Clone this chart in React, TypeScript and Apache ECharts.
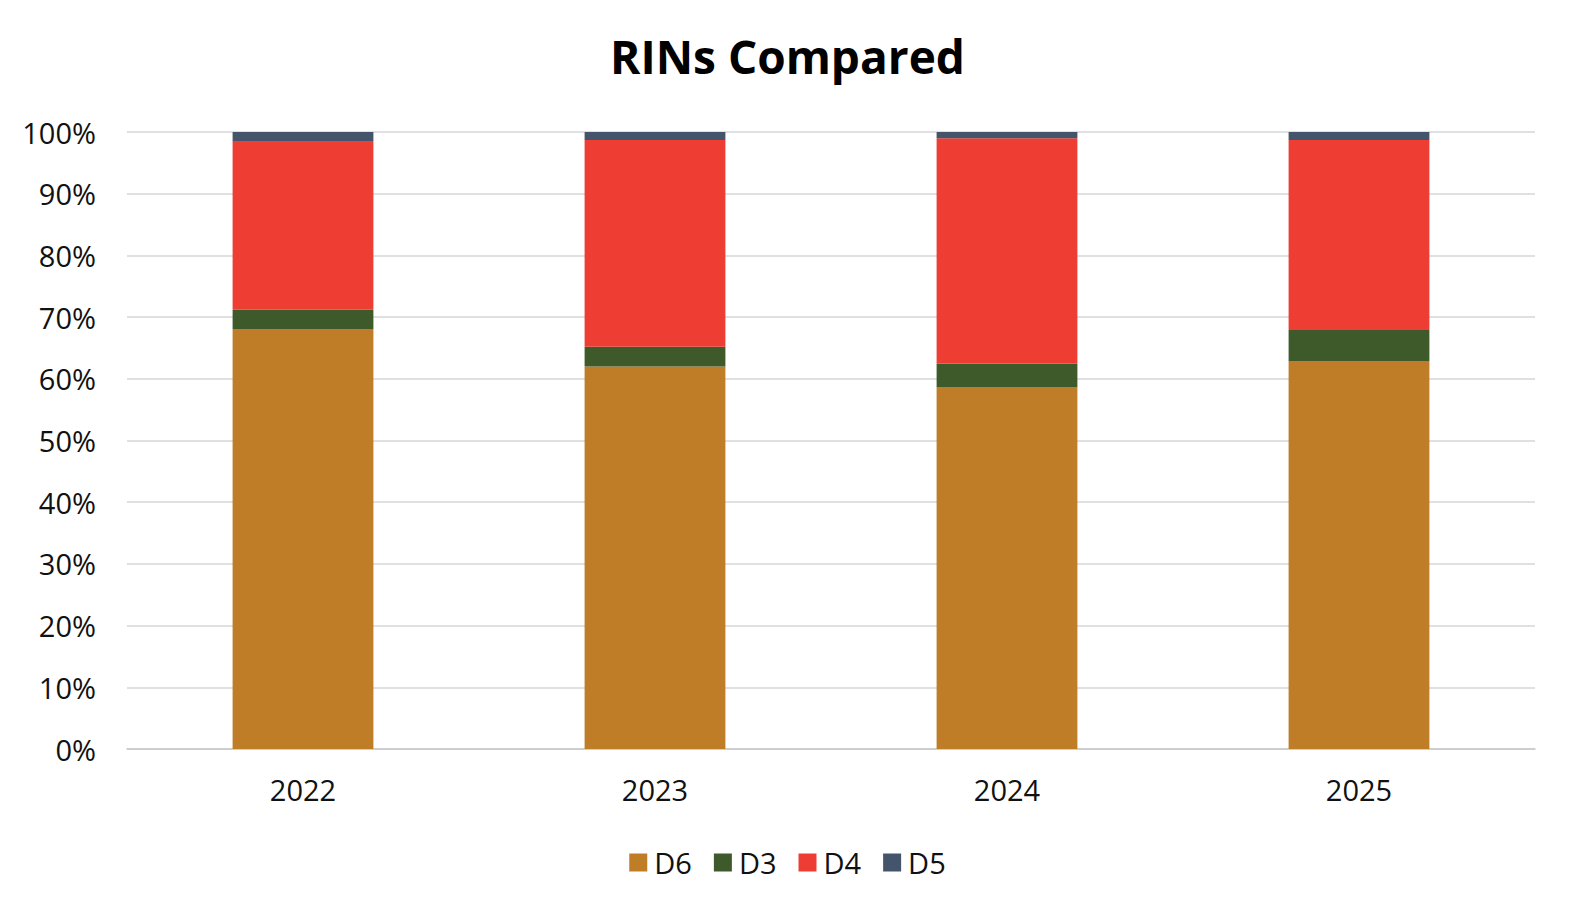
import React, { useEffect, useRef } from "react";
import * as echarts from "echarts";

const categories = ["2022", "2023", "2024", "2025"];
const d6 = [68.0, 62.0, 58.6, 62.8];
const d3 = [3.2, 3.2, 3.9, 5.1];
const d4 = [27.2, 33.5, 36.5, 30.8];
const d5 = [1.6, 1.3, 1.0, 1.3];
const seriesNames = ["D6", "D3", "D4", "D5"];
const colors = ["#C07D28", "#3F5A2A", "#EE3E33", "#44546A"];

export default function App() {
  const ref = useRef<HTMLDivElement>(null);
  useEffect(() => {
    if (!ref.current) return;
    const chart = echarts.init(ref.current, undefined, { renderer: "svg" });
    const data = [d6, d3, d4, d5];
    chart.setOption({
      animation: false,
      backgroundColor: "#ffffff",
      title: {
        text: "RINs Compared",
        left: "center",
        top: 28,
        textStyle: {
          fontFamily: "Open Sans",
          fontWeight: "bold",
          fontSize: 46,
          color: "#000000",
        },
      },
      legend: {
        bottom: 30,
        left: "center",
        icon: "rect",
        itemWidth: 18,
        itemHeight: 18,
        itemGap: 22,
        textStyle: { fontFamily: "Open Sans", fontSize: 29, color: "#111", padding: [0, 0, 0, 2] },
        data: seriesNames,
      },
      grid: { left: 127, right: 40, top: 132, bottom: 163 },
      xAxis: {
        type: "category",
        data: categories,
        axisTick: { show: false },
        axisLine: { lineStyle: { color: "#c8c8c8", width: 1.5 } },
        axisLabel: { fontFamily: "Open Sans", fontSize: 29, color: "#111", margin: 26 },
      },
      yAxis: {
        type: "value",
        min: 0,
        max: 100,
        interval: 10,
        axisLine: { show: false },
        axisTick: { show: false },
        splitLine: { lineStyle: { color: "#d6d6d6", width: 1.5 } },
        axisLabel: {
          fontFamily: "Open Sans",
          fontSize: 29,
          color: "#111",
          margin: 31,
          formatter: "{value}%",
        },
      },
      series: seriesNames.map((name, i) => ({
        name,
        type: "bar",
        stack: "total",
        barWidth: "40%",
        data: data[i],
        itemStyle: { color: colors[i] },
      })),
    });
    return () => chart.dispose();
  }, []);
  return (
    <div
      ref={ref}
      style={{ position: "fixed", left: 0, top: 0, width: 1575, height: 912 }}
    />
  );
}
